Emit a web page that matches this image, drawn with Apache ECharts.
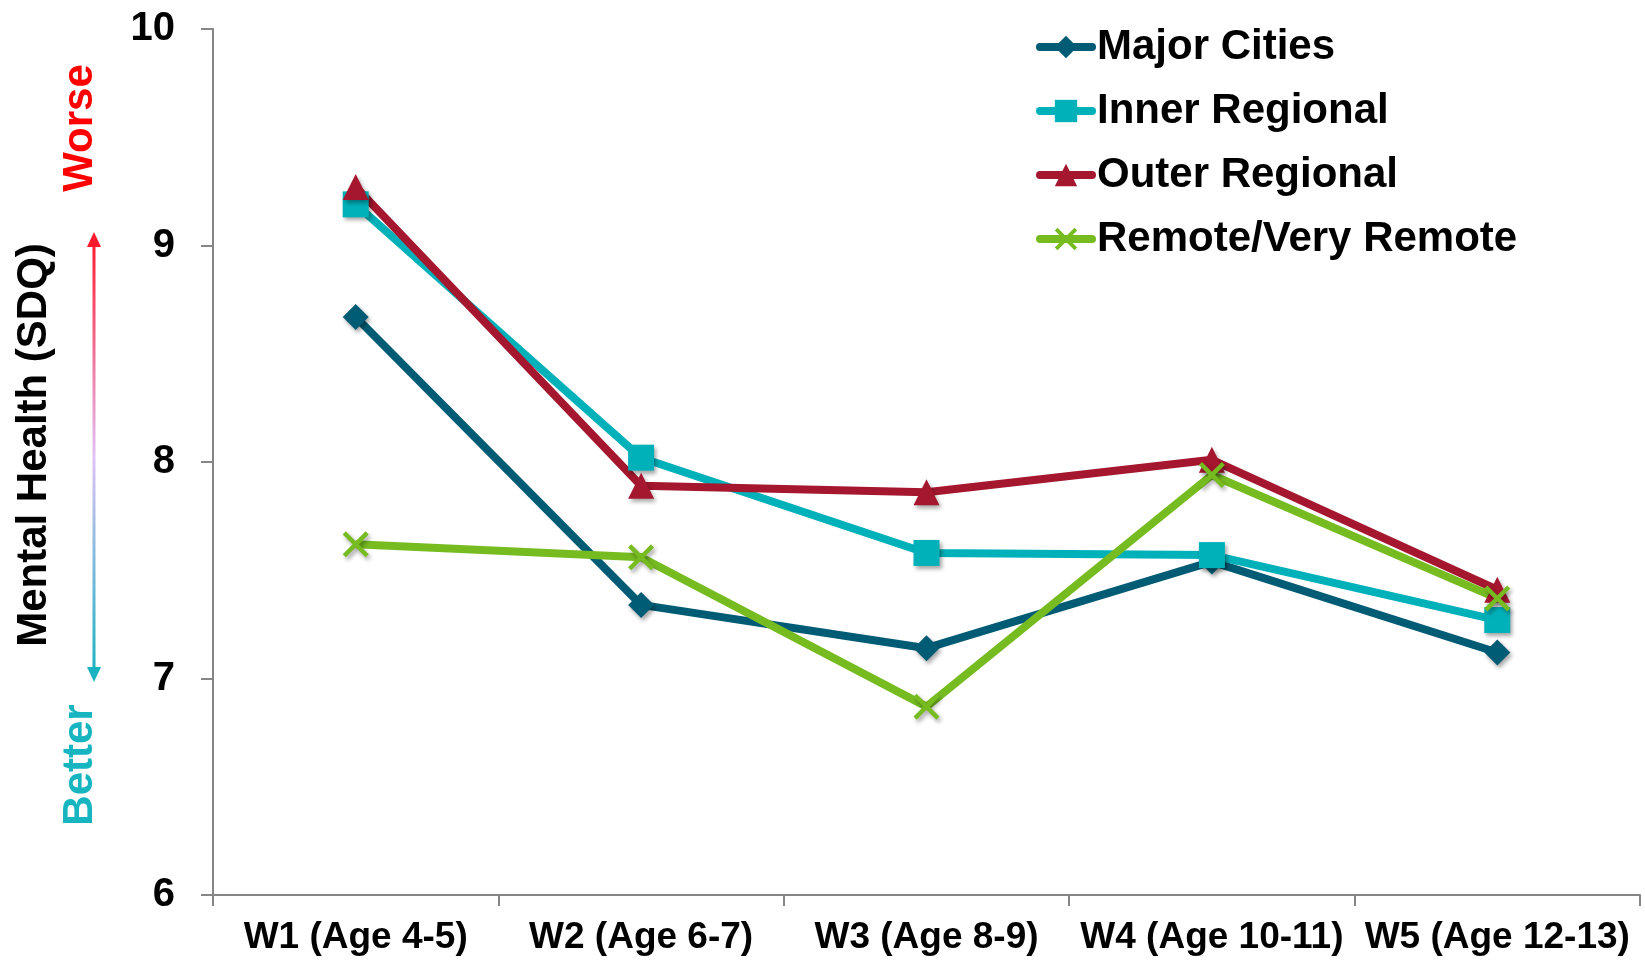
<!DOCTYPE html>
<html>
<head>
<meta charset="utf-8">
<script src="https://cdn.jsdelivr.net/npm/echarts@6/dist/echarts.min.js"></script>
<style>
html,body{margin:0;padding:0;background:#fff;}
#chart{width:1645px;height:962px;}
</style>
</head>
<body>
<div id="chart"></div>
<script>
const categories = ['W1 (Age 4-5)', 'W2 (Age 6-7)', 'W3 (Age 8-9)', 'W4 (Age 10-11)', 'W5 (Age 12-13)'];
const majorCities = [8.67, 7.34, 7.14, 7.54, 7.12];
const innerRegional = [9.19, 8.02, 7.58, 7.57, 7.27];
const outerRegional = [9.27, 7.89, 7.86, 8.01, 7.41];
const remoteVeryRemote = [7.62, 7.56, 6.87, 7.94, 7.37];
const seriesNames = ['Major Cities', 'Inner Regional', 'Outer Regional', 'Remote/Very Remote'];
const yTicks = [6, 7, 8, 9, 10];

const FONT = '"Liberation Sans", Arial, sans-serif';
const colors = ['#005B74', '#00B1BA', '#A5172E', '#76BC21'];
const xSymbol = 'path://M0,1.2 L1.2,0 L10,8.8 L8.8,10 Z M8.8,0 L10,1.2 L1.2,10 L0,8.8 Z';
const shadow = {shadowBlur: 4, shadowColor: 'rgba(0,0,0,0.35)', shadowOffsetX: 2, shadowOffsetY: 3};

function mkSeries(name, data, color, symbol, size) {
  return {
    name: name, type: 'line', data: data,
    symbol: symbol, symbolSize: size,
    lineStyle: {color: color, width: 8},
    itemStyle: Object.assign({color: color}, shadow),
    z: 3
  };
}

const chart = echarts.init(document.getElementById('chart'));
chart.setOption({
  animation: false,
  backgroundColor: '#fff',
  grid: {left: 213, right: 5, top: 29, bottom: 67, containLabel: false},
  legend: {
    orient: 'vertical', left: 1031, top: 21,
    itemWidth: 52, itemHeight: 28, itemGap: 22,
    data: seriesNames,
    lineStyle: {width: 8, cap: 'round'},
    itemStyle: {shadowBlur: 0, shadowOffsetX: 0, shadowOffsetY: 0},
    textStyle: {fontFamily: FONT, fontWeight: 'bold', fontSize: 42, color: '#000', lineHeight: 42}
  },
  xAxis: {
    type: 'category', data: categories, boundaryGap: true,
    axisLine: {lineStyle: {color: '#868686', width: 2}},
    axisTick: {show: true, length: 11, lineStyle: {color: '#868686', width: 2}},
    axisLabel: {fontFamily: FONT, fontWeight: 'bold', fontSize: 37, color: '#000', margin: 24, interval: 0}
  },
  yAxis: {
    type: 'value', min: yTicks[0], max: yTicks[yTicks.length - 1], interval: 1,
    splitLine: {show: false},
    axisLine: {show: true, lineStyle: {color: '#868686', width: 2}},
    axisTick: {show: true, length: 12, lineStyle: {color: '#868686', width: 2}},
    axisLabel: {fontFamily: FONT, fontWeight: 'bold', fontSize: 40, color: '#000', margin: 38}
  },
  graphic: [
    {type: 'text', x: 34, y: 445, rotation: Math.PI / 2,
     style: {text: 'Mental Health (SDQ)', font: 'bold 42px ' + FONT, fill: '#000', align: 'center', verticalAlign: 'middle'}},
    {type: 'text', x: 80, y: 128, rotation: Math.PI / 2,
     style: {text: 'Worse', font: 'bold 42px ' + FONT, fill: '#FF0000', align: 'center', verticalAlign: 'middle'}},
    {type: 'text', x: 80, y: 765, rotation: Math.PI / 2,
     style: {text: 'Better', font: 'bold 42px ' + FONT, fill: '#17B5C0', align: 'center', verticalAlign: 'middle'}},
    {type: 'line', shape: {x1: 94, y1: 244, x2: 94, y2: 670},
     style: {lineWidth: 3, stroke: new echarts.graphic.LinearGradient(0, 0, 0, 1, [
       {offset: 0, color: '#FF1A2E'}, {offset: 0.5, color: '#E2C2F7'}, {offset: 1, color: '#19B3BF'}])}},
    {type: 'polygon', shape: {points: [[94, 232], [87, 247], [101, 247]]}, style: {fill: '#FF1A2E'}},
    {type: 'polygon', shape: {points: [[94, 682], [87, 667], [101, 667]]}, style: {fill: '#19B3BF'}}
  ],
  series: [
    mkSeries(seriesNames[0], majorCities, colors[0], 'diamond', 26),
    mkSeries(seriesNames[1], innerRegional, colors[1], 'rect', 26),
    mkSeries(seriesNames[2], outerRegional, colors[2], 'triangle', 26),
    mkSeries(seriesNames[3], remoteVeryRemote, colors[3], xSymbol, 26)
  ]
});
</script>
</body>
</html>
